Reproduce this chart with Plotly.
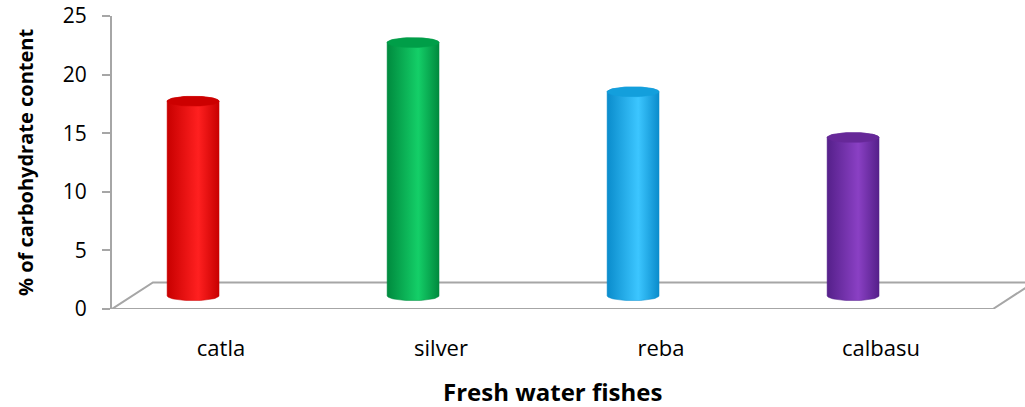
"""Carbohydrate content of fresh water fishes, drawn as Excel-style 3D cylinders."""

import numpy as np
import plotly.graph_objects as go

fishes = ["catla", "silver", "reba", "calbasu"]
carbohydrate = [16.6, 21.6, 17.4, 13.5]
y_ticks = [0, 5, 10, 15, 20, 25]

# body gradient (edge, highlight) and darker top cap per bar
body_colors = [
    ("#c80000", "#ff2020"),
    ("#008a3e", "#14cf68"),
    ("#0a8ccc", "#3cc6ff"),
    ("#55208a", "#8a40c4"),
]
cap_colors = ["#cc0000", "#009e48", "#139fdc", "#662898"]

# pseudo-3D geometry (axis units)
depth_dx, depth_dy = 0.186, 2.26
bar_shift = -0.127
half_w = 0.118
cap_ry = 0.42

fig = go.Figure()

# floor parallelogram
fx0, fx1 = -0.4955, 3.509
fig.add_trace(go.Scatter(
    x=[fx0, fx0 + depth_dx, fx1 + depth_dx + 0.3, None, fx0, fx1, fx1 + depth_dx],
    y=[0, depth_dy, depth_dy, None, 0, 0, depth_dy],
    mode="lines", line=dict(color="#a6a6a6", width=2),
    hoverinfo="skip", showlegend=False, cliponaxis=True,
))

t = np.linspace(0, np.pi, 40)
base = depth_dy / 2
for i, (name, val) in enumerate(zip(fishes, carbohydrate)):
    cx = i + bar_shift
    top = base + val
    # body: bottom half-ellipse, right side, top back half-ellipse
    bx = cx - half_w * np.cos(t)
    by = base - cap_ry * np.sin(t)
    tx = cx + half_w * np.cos(t)
    ty = top + cap_ry * np.sin(t)
    xs = np.concatenate([bx, tx, [bx[0]]])
    ys = np.concatenate([by, ty, [by[0]]])
    edge, hi = body_colors[i]
    fig.add_trace(go.Scatter(
        x=xs, y=ys, mode="lines", fill="toself",
        line=dict(width=0.5, color=edge),
        fillgradient=dict(type="horizontal",
                          colorscale=[[0, edge], [0.6, hi], [1, edge]]),
        hoverinfo="skip", showlegend=False,
    ))
    a = np.linspace(0, 2 * np.pi, 60)
    fig.add_trace(go.Scatter(
        x=cx + half_w * np.cos(a), y=top + cap_ry * np.sin(a),
        mode="lines", fill="toself", fillcolor=cap_colors[i],
        line=dict(width=0.5, color=cap_colors[i]),
        name=name, hovertemplate=f"{name}: {val}<extra></extra>", showlegend=False,
    ))

fig.add_annotation(
    text="<b>Fresh water fishes</b>", xref="paper", yref="paper",
    x=0.482, y=-0.281, xanchor="center", yanchor="middle", showarrow=False,
    font=dict(family="Open Sans", size=24, color="#000000"),
)

fig.update_layout(
    width=1025, height=407,
    margin=dict(l=112, r=0, t=16, b=98),
    paper_bgcolor="white", plot_bgcolor="white",
    font=dict(family="Open Sans", size=19, color="#000000"),
    xaxis=dict(
        range=[-0.4955, 3.6545], showgrid=False, zeroline=False, showline=False,
        tickvals=list(range(len(fishes))), ticktext=fishes, ticks="",
        ticklabelstandoff=24, tickfont=dict(size=22),
    ),
    yaxis=dict(
        range=[0, 25], tickvals=y_ticks, showgrid=False, zeroline=False,
        showline=True, linecolor="#a6a6a6", linewidth=2,
        ticks="outside", ticklen=8, tickcolor="#a6a6a6", tickwidth=2,
        ticklabelstandoff=11, tickfont=dict(size=21),
        title=dict(text="<b>% of carbohydrate content</b>", standoff=24,
                   font=dict(size=20)),
    ),
)

# drop the default 8px page margin so the figure sits at the window corner
fig.write_html(
    "out.html",
    config={"displayModeBar": False},
    post_script="document.body.style.margin='0';",
)
